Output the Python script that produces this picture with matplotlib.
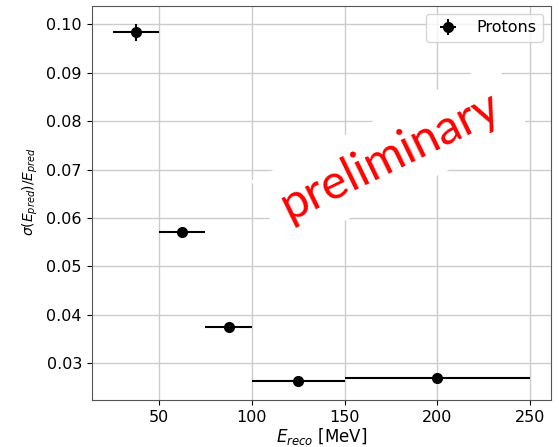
import numpy as np
import matplotlib
matplotlib.use("Agg")
import matplotlib.pyplot as plt

# energy bins (MeV) and resolution
bin_lo = [25, 50, 75, 100, 150]
bin_hi = [50, 75, 100, 150, 250]
resolution = [0.0983, 0.0570, 0.0374, 0.0264, 0.0270]
res_err = [0.0018, 0.0006, 0.0004, 0.0003, 0.0003]

x = [(a + b) / 2 for a, b in zip(bin_lo, bin_hi)]
xerr = [(b - a) / 2 for a, b in zip(bin_lo, bin_hi)]

plt.rcParams['font.size'] = 11.5
fig = plt.figure(figsize=(5.59, 4.47), dpi=100)
ax = fig.add_axes([0.164, 0.105, 0.822, 0.882])

ax.errorbar(x, resolution, xerr=xerr, yerr=res_err, fmt='o', color='black',
            markersize=7, elinewidth=1.5, label='Protons')
ax.grid(True, color='#cccccc', linewidth=1)
ax.set_axisbelow(True)
ax.set_xlabel(r'$E_{reco}$ [MeV]', fontsize=12)
ax.xaxis.set_label_coords(0.5, -0.066)
ax.set_ylabel(r'$\sigma(E_{pred})/E_{pred}$', fontsize=10)
ax.yaxis.set_label_coords(-0.113, 0.53)
ax.legend(loc='upper right')
for s in ax.spines.values():
    s.set_color('#555555')

ax.text(0.65, 0.62, 'preliminary', transform=ax.transAxes, color='#ff0000',
        fontsize=35, family='Lato', rotation=26, ha='center', va='center',
        bbox=dict(facecolor='white', edgecolor='none', pad=12))

fig.savefig('out.png', dpi=100)
